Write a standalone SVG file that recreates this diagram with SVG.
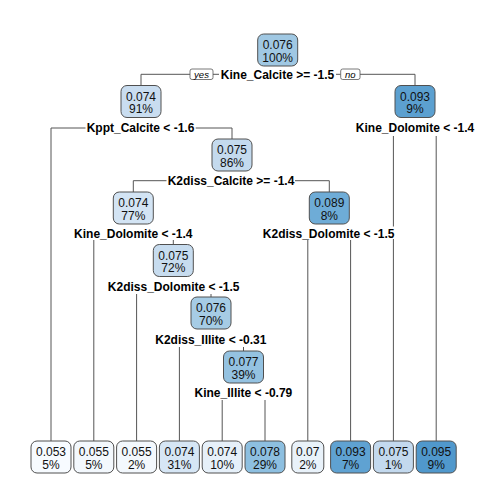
<svg xmlns="http://www.w3.org/2000/svg" width="504" height="504" viewBox="0 0 504 504">
<style>
.bg{fill:#ffffff}
.edge{fill:none;stroke:#555555;stroke-width:1}
.box{stroke:#505050;stroke-width:1}
.val{font-family:"Liberation Sans",Arial,sans-serif;font-size:12px;fill:#111111;text-anchor:middle}
.lab{font-family:"Liberation Sans",Arial,sans-serif;font-size:12px;font-weight:bold;fill:#000000;text-anchor:middle}
.yn{font-family:"Liberation Sans",Arial,sans-serif;font-size:9.5px;font-style:italic;fill:#000000;text-anchor:middle}
.ynbox{fill:#ffffff;stroke:#555555;stroke-width:0.8}
</style>
<rect class="bg" x="0" y="0" width="504" height="504"/>
<g id="connectors">
<path class="edge" d="M141,85.5 V74.3 H190 M213,74.3 H219 M336,74.3 H340.7 M360,74.3 H415 V85.5"/>
<path class="edge" d="M51,441 V128 H85.5 M195.7,128 H232 V139"/>
<path class="edge" d="M393.4,136 V226.5 M393.4,239 V441 M436.2,136 V441"/>
<path class="edge" d="M133.3,192 V180.7 H166.5 M295,180.7 H329.3 V192"/>
<path class="edge" d="M93.8,240 V441 M173.3,240 V244.5"/>
<path class="edge" d="M307.8,240 V441 M350.6,240 V441"/>
<path class="edge" d="M136.6,294 V441 M211,294 V297"/>
<path class="edge" d="M179.4,347 V441 M243.5,347 V351"/>
<path class="edge" d="M222.2,400 V441 M265,400 V441"/>
<rect class="ynbox" x="190" y="69" width="23" height="10.5" rx="2"/>
<text class="yn" x="201.5" y="77.5">yes</text>
<rect class="ynbox" x="340.7" y="69" width="19.3" height="10.5" rx="2"/>
<text class="yn" x="350.3" y="77.5">no</text>
</g>
<g id="labels">
<text class="lab" x="277.5" y="78.6">Kine_Calcite &gt;= -1.5</text>
<text class="lab" x="140.5" y="132.3">Kppt_Calcite &lt; -1.6</text>
<text class="lab" x="415" y="132.3">Kine_Dolomite &lt; -1.4</text>
<text class="lab" x="231" y="185">K2diss_Calcite &gt;= -1.4</text>
<text class="lab" x="133.3" y="237.6">Kine_Dolomite &lt; -1.4</text>
<text class="lab" x="328.7" y="237.6">K2diss_Dolomite &lt; -1.5</text>
<text class="lab" x="173.7" y="291.3">K2diss_Dolomite &lt; -1.5</text>
<text class="lab" x="210.8" y="344.3">K2diss_Illite &lt; -0.31</text>
<text class="lab" x="243.4" y="396.6">Kine_Illite &lt; -0.79</text>
</g>
<g id="n1"><rect class="box" x="257.7" y="34" width="40" height="32" rx="6" fill="#A0C8E3"/><text class="val" x="277.7" y="49">0.076</text><text class="val" x="277.7" y="61.5">100%</text></g>
<g id="n2"><rect class="box" x="121" y="85.5" width="40" height="32" rx="6" fill="#C9DDF0"/><text class="val" x="141" y="100.5">0.074</text><text class="val" x="141" y="113">91%</text></g>
<g id="n3"><rect class="box" x="395" y="85.5" width="40" height="32" rx="6" fill="#5CA0D0"/><text class="val" x="415" y="100.5">0.093</text><text class="val" x="415" y="113">9%</text></g>
<g id="n4"><rect class="box" x="212" y="139" width="40" height="32" rx="6" fill="#C4DAEE"/><text class="val" x="232" y="154">0.075</text><text class="val" x="232" y="166.5">86%</text></g>
<g id="n5"><rect class="box" x="113.3" y="192" width="40" height="32" rx="6" fill="#D3E4F4"/><text class="val" x="133.3" y="207">0.074</text><text class="val" x="133.3" y="219.5">77%</text></g>
<g id="n6"><rect class="box" x="309.3" y="192" width="40" height="32" rx="6" fill="#6EACD7"/><text class="val" x="329.3" y="207">0.089</text><text class="val" x="329.3" y="219.5">8%</text></g>
<g id="n7"><rect class="box" x="153.3" y="244.5" width="40" height="32" rx="6" fill="#C7DCEF"/><text class="val" x="173.3" y="259.5">0.075</text><text class="val" x="173.3" y="272">72%</text></g>
<g id="n8"><rect class="box" x="191" y="297" width="40" height="32" rx="6" fill="#A6CCE5"/><text class="val" x="211" y="312">0.076</text><text class="val" x="211" y="324.5">70%</text></g>
<g id="n9"><rect class="box" x="223.5" y="351" width="40" height="32" rx="6" fill="#94C2E1"/><text class="val" x="243.5" y="366">0.077</text><text class="val" x="243.5" y="378.5">39%</text></g>
<g id="l1"><rect class="box" x="31" y="441" width="40" height="32" rx="6" fill="#F7FBFF"/><text class="val" x="51" y="456">0.053</text><text class="val" x="51" y="468.5">5%</text></g>
<g id="l2"><rect class="box" x="73.8" y="441" width="40" height="32" rx="6" fill="#F3F8FD"/><text class="val" x="93.8" y="456">0.055</text><text class="val" x="93.8" y="468.5">5%</text></g>
<g id="l3"><rect class="box" x="116.6" y="441" width="40" height="32" rx="6" fill="#F3F8FD"/><text class="val" x="136.6" y="456">0.055</text><text class="val" x="136.6" y="468.5">2%</text></g>
<g id="l4"><rect class="box" x="159.4" y="441" width="40" height="32" rx="6" fill="#D6E6F5"/><text class="val" x="179.4" y="456">0.074</text><text class="val" x="179.4" y="468.5">31%</text></g>
<g id="l5"><rect class="box" x="202.2" y="441" width="40" height="32" rx="6" fill="#E6F0F9"/><text class="val" x="222.2" y="456">0.074</text><text class="val" x="222.2" y="468.5">10%</text></g>
<g id="l6"><rect class="box" x="245" y="441" width="40" height="32" rx="6" fill="#8DBFE0"/><text class="val" x="265" y="456">0.078</text><text class="val" x="265" y="468.5">29%</text></g>
<g id="l7"><rect class="box" x="291.8" y="441" width="32" height="32" rx="6" fill="#E9F2FA"/><text class="val" x="307.8" y="456">0.07</text><text class="val" x="307.8" y="468.5">2%</text></g>
<g id="l8"><rect class="box" x="330.6" y="441" width="40" height="32" rx="6" fill="#5FA2D2"/><text class="val" x="350.6" y="456">0.093</text><text class="val" x="350.6" y="468.5">7%</text></g>
<g id="l9"><rect class="box" x="373.4" y="441" width="40" height="32" rx="6" fill="#C3D9EE"/><text class="val" x="393.4" y="456">0.075</text><text class="val" x="393.4" y="468.5">1%</text></g>
<g id="l10"><rect class="box" x="416.2" y="441" width="40" height="32" rx="6" fill="#5098CC"/><text class="val" x="436.2" y="456">0.095</text><text class="val" x="436.2" y="468.5">9%</text></g>
</svg>
